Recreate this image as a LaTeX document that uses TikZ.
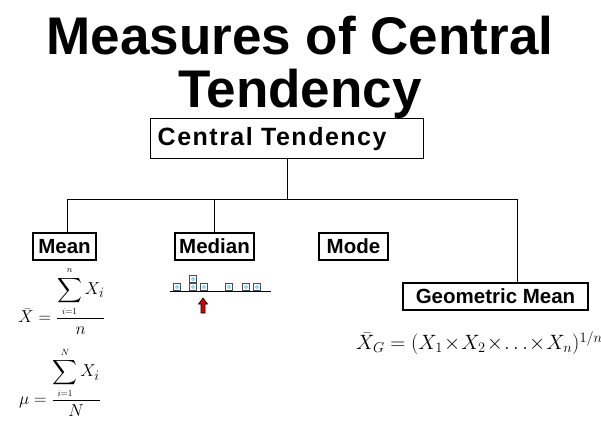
\documentclass[tikz,border=0pt]{standalone}
\usepackage{exscale}
\usepackage{fontspec}
\setmainfont{Liberation Sans}
\newfontfamily\spacedfont[LetterSpace=6.0]{Liberation Sans}
\usetikzlibrary{positioning, arrows.meta}

\begin{document}
\begin{tikzpicture}[
    x=1pt, y=-1pt,
    box/.style={
        draw,
        line width=1.4pt,
        inner sep=0pt,
        minimum height=27pt,
        font=\fontsize{20.5}{24}\selectfont\bfseries,
    },
    wire/.style={draw, line width=1.4pt},
    title/.style={font=\fontsize{53}{60}\selectfont\bfseries, inner sep=0pt, anchor=base},
    formula/.style={inner sep=0pt, font=\fontsize{19}{23}\selectfont},
    item/.style={draw=black!70, fill=white, line width=0.6pt, minimum size=7pt, inner sep=0pt},
    dot/.style={circle, fill=cyan!45, minimum size=4pt, inner sep=0pt},
]

\useasboundingbox (0,0) rectangle (601,422);

% --- Title ---
\node[title] (title1) at (300,55)  {Measures of Central};
\node[title] (title2) at (300,108) {Tendency};

% --- Boxes ---
\node[box, anchor=north west, minimum width=273pt, minimum height=40pt,
      text width=259pt, inner xsep=7pt, align=left,
      font=\spacedfont\fontsize{25}{28}\selectfont\bfseries] (central) at (150,118) {Central Tendency};
\node[box, minimum width=63pt]  (mean)   at (64.5,246.5)  {Mean};
\node[box, minimum width=79pt]  (median) at (214.5,246.5) {Median};
\node[box, minimum width=69pt]  (mode)   at (353.5,246.5) {Mode};
\node[box, minimum width=185pt] (geo)    at (495.5,296.5) {Geometric Mean};

% --- Connectors ---
\draw[wire] (central.south) -- ++(0,40) coordinate (bus);
\draw[wire] ([xshift=3pt]mean.north) |- (bus) -| ([xshift=22pt]geo.north);
\draw[wire] (median.north) -- (median.north |- bus);

% --- Formulas ---
\node[formula] (xbar) at (62,301)
    {$\displaystyle \bar{X} = \frac{\displaystyle\sum_{\scriptscriptstyle i=1}^{\scriptscriptstyle n} X_i}{n}$};
\node[formula] (mu)   at (60,382)
    {$\displaystyle \mu = \frac{\displaystyle\sum_{\scriptscriptstyle i=1}^{\scriptscriptstyle N} X_i}{N}$};
\node[formula, anchor=west, font=\fontsize{21}{25}\selectfont] (geomean) at (356,343)
    {$\bar{X}_G = ( X_1 \!\times\! X_2 \!\times\! \ldots \!\times\! X_n )^{1/n}$};

% --- Median sketch ---
\draw[line width=1pt] (170,291) -- (271,291);
\foreach \px in {177,193,204,229,246,257} {
    \node[item] at (\px,287) {};
    \node[dot]  at (\px,287) {};
}
\node[item] at (193,279) {};
\node[dot]  at (193,279) {};
\draw[fill=red!85!black, line width=0.6pt]
    (201,313) -- (201,304) -- (198.5,304) -- (203,298) -- (207.5,304) -- (205,304) -- (205,313) -- cycle;

\end{tikzpicture}
\end{document}
